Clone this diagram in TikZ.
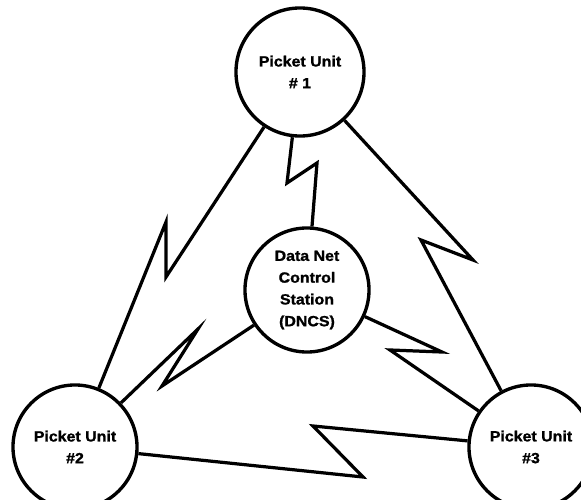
\documentclass[tikz,border=0pt]{standalone}
\usepackage{fontspec}
\setmainfont{Liberation Sans}
\newfontfamily\unitfont{Liberation Sans}[FakeStretch=1.08,BoldFeatures={FakeBold=1.3}]
\tikzset{
  unit/.style={circle,draw,line width=2.4pt,minimum size=3.1cm,inner sep=0pt,
               align=center,font=\unitfont\bfseries\fontsize{10.5}{15.5}\selectfont},
  link/.style={line width=2.3pt,line join=miter}
}

\begin{document}
\begin{tikzpicture}[x=0.025cm,y=-0.025cm]
  \clip (0,0) rectangle (581,500);
  % stations
  \node[unit,minimum size=3.2cm] (pu1) at (300,72) {Picket Unit\\\# 1};
  \node[unit] (pu2) at (75,447) {Picket Unit\\\#2};
  \node[unit] (pu3) at (531,447) {Picket Unit\\\#3};
  \node[unit] (dncs) at (307,290) {Data Net\\Control\\Station\\(DNCS)};
  % radio link kinks
  \coordinate (k12a) at (166,277);
  \coordinate (k12b) at (166,222);
  \coordinate (k1da) at (287,183);
  \coordinate (k1db) at (317,163);
  \coordinate (k13a) at (473,260);
  \coordinate (k13b) at (421,240);
  \coordinate (kd2a) at (162,386);
  \coordinate (kd2b) at (198,329);
  \coordinate (kd3a) at (442,352);
  \coordinate (kd3b) at (390,350);
  \coordinate (k23a) at (363,477);
  \coordinate (k23b) at (313,426);
  % links
  \draw[link] (pu1) -- (k12a) -- (k12b) -- (pu2);
  \draw[link] (pu1) -- (k1da) -- (k1db) -- (dncs);
  \draw[link] (pu1) -- (k13a) -- (k13b) -- (pu3);
  \draw[link] (dncs) -- (kd2a) -- (kd2b) -- (pu2);
  \draw[link] (dncs) -- (kd3a) -- (kd3b) -- (pu3);
  \draw[link] (pu2) -- (k23a) -- (k23b) -- (pu3);
\end{tikzpicture}
\end{document}
